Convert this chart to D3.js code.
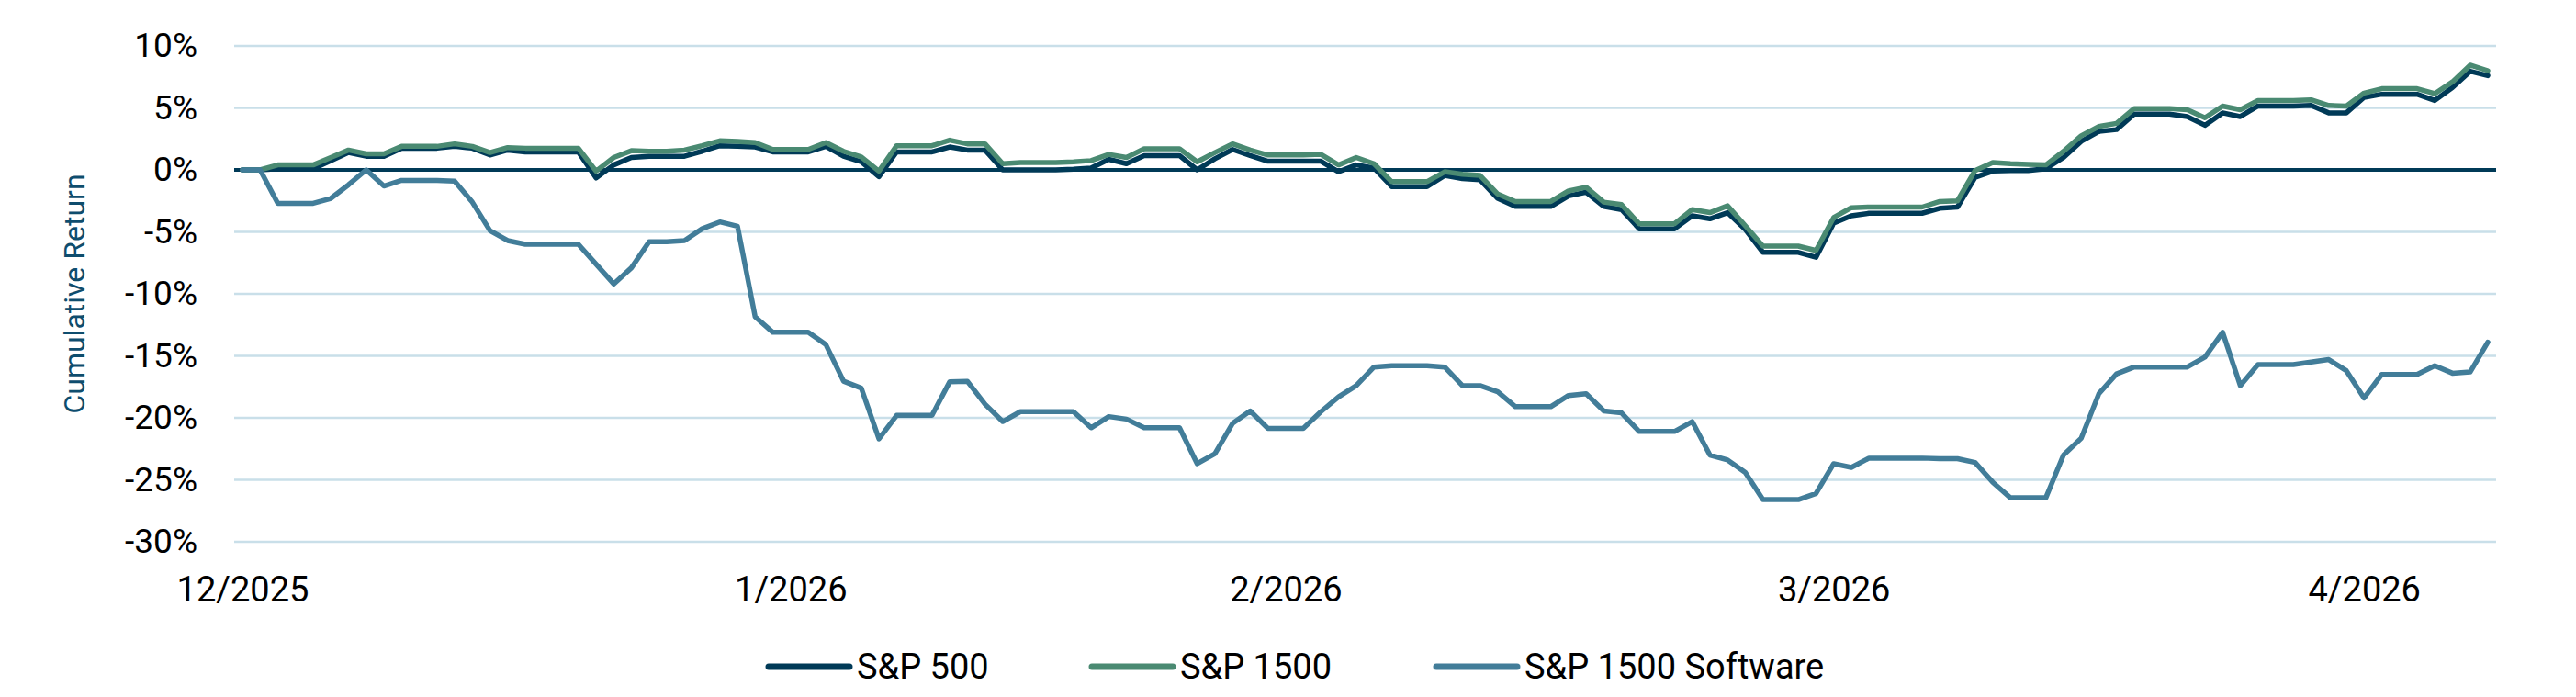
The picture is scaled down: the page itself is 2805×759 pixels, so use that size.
<!DOCTYPE html>
<html>
<head>
<meta charset="utf-8">
<script src="https://cdn.jsdelivr.net/npm/d3@7"></script>
<style>
  body { margin: 0; background: #fff; }
  text { font-family: "Liberation Sans Narrow", "Roboto", sans-serif; }
</style>
</head>
<body>
<svg id="chart" width="2805" height="759"></svg>
<script>
// daily cumulative returns (%), one value per calendar day
var sp500 = [0,0,0.1,0.1,0.1,0.75,1.4,1.1,1.1,1.75,1.75,1.75,1.9,1.75,1.2,1.6,1.45,1.45,1.45,1.45,-0.65,0.4,1.0,1.1,1.1,1.1,
  1.5,1.95,1.9,1.85,1.45,1.45,1.45,1.9,1.1,0.65,-0.55,1.45,1.45,1.45,1.85,1.6,1.6,0,0,0,0,0.05,0.15,0.85,0.5,
  1.15,1.15,1.15,0,0.9,1.65,1.15,0.7,0.7,0.7,0.7,-0.15,0.4,0.15,-1.35,-1.35,-1.35,-0.45,-0.7,-0.8,-2.3,-2.95,-2.95,-2.95,-2.1,-1.8,
  -2.95,-3.2,-4.75,-4.75,-4.75,-3.7,-3.95,-3.45,-4.8,-6.65,-6.65,-6.65,-7.05,-4.3,-3.7,-3.5,-3.5,-3.5,-3.5,-3.1,-3.0,-0.6,-0.1,-0.05,-0.05,
  0.1,1.0,2.3,3.1,3.25,4.5,4.5,4.5,4.3,3.6,4.6,4.3,5.15,5.15,5.15,5.2,4.6,4.6,5.85,6.1,6.1,6.1,5.6,6.65,7.95,7.6];
var sp1500 = [0,0,0.4,0.4,0.4,1.0,1.6,1.3,1.3,1.9,1.9,1.9,2.1,1.9,1.4,1.8,1.75,1.75,1.75,1.75,-0.1,1.0,1.55,1.5,1.5,1.6,
  1.95,2.35,2.3,2.2,1.65,1.65,1.65,2.2,1.5,1.05,-0.1,1.95,1.95,1.95,2.4,2.1,2.1,0.5,0.6,0.6,0.6,0.65,0.75,1.25,1.0,
  1.7,1.7,1.7,0.65,1.4,2.1,1.6,1.2,1.2,1.2,1.25,0.4,1.0,0.5,-0.95,-0.95,-0.95,-0.15,-0.35,-0.45,-1.95,-2.55,-2.55,-2.55,-1.7,-1.4,
  -2.6,-2.8,-4.35,-4.35,-4.35,-3.2,-3.45,-2.9,-4.5,-6.15,-6.15,-6.15,-6.5,-3.85,-3.05,-3.0,-3.0,-3.0,-3.0,-2.55,-2.5,-0.05,0.6,0.5,0.45,
  0.4,1.5,2.75,3.5,3.75,4.95,4.95,4.95,4.85,4.2,5.15,4.85,5.6,5.6,5.6,5.65,5.2,5.15,6.2,6.55,6.55,6.55,6.15,7.1,8.45,8.0];
var software = [0,0,-2.7,-2.7,-2.7,-2.3,-1.2,0,-1.3,-0.85,-0.85,-0.85,-0.9,-2.6,-4.9,-5.7,-6.0,-6.0,-6.0,-6.0,-7.6,-9.2,-7.9,-5.8,-5.8,-5.7,
  -4.75,-4.2,-4.55,-11.85,-13.1,-13.1,-13.1,-14.1,-17.05,-17.6,-21.7,-19.8,-19.8,-19.8,-17.1,-17.05,-18.9,-20.3,-19.5,-19.5,-19.5,-19.5,-20.8,-19.9,-20.1,
  -20.8,-20.8,-20.8,-23.7,-22.9,-20.45,-19.45,-20.85,-20.85,-20.85,-19.5,-18.3,-17.4,-15.9,-15.8,-15.8,-15.8,-15.9,-17.4,-17.4,-17.9,-19.1,-19.1,-19.1,-18.2,-18.05,
  -19.45,-19.6,-21.1,-21.1,-21.1,-20.3,-23.0,-23.4,-24.4,-26.6,-26.6,-26.6,-26.1,-23.7,-24.0,-23.25,-23.25,-23.25,-23.25,-23.3,-23.3,-23.6,-25.2,-26.45,-26.45,
  -26.45,-23.0,-21.65,-18.05,-16.45,-15.9,-15.9,-15.9,-15.9,-15.1,-13.1,-17.4,-15.7,-15.7,-15.7,-15.5,-15.3,-16.2,-18.4,-16.5,-16.5,-16.5,-15.8,-16.4,-16.3,-13.9];

var seriesNames = ["S&P 500", "S&P 1500", "S&P 1500 Software"];
var seriesColors = ["#003a57", "#4a8a72", "#427d99"];
var yTicks = [10, 5, 0, -5, -10, -15, -20, -25, -30];
var xTickIdx = [0, 31, 59, 90, 120];
var xTickLabels = ["12/2025", "1/2026", "2/2026", "3/2026", "4/2026"];

var svg = d3.select("#chart");
var x = d3.scaleLinear().domain([0, sp500.length - 1]).range([264, 2709]);
var y = d3.scaleLinear().domain([-30, 10]).range([590, 50]);

// gridlines
svg.append("g").selectAll("line").data(yTicks.filter(function(d) { return d !== 0; }))
  .enter().append("line")
    .attr("x1", 255).attr("x2", 2718)
    .attr("y1", y).attr("y2", y)
    .attr("stroke", "#c9dfe9").attr("stroke-width", 2.5);

// y axis labels
var yAxis = d3.axisLeft(y).tickValues(yTicks).tickSize(0).tickPadding(0)
  .tickFormat(function(d) { return d + "%"; });
svg.append("g").attr("transform", "translate(215,0)").call(yAxis)
  .call(function(g) { g.select(".domain").remove(); })
  .selectAll("text").attr("font-size", 37).attr("fill", "#000")
    .style("font-family", '"Liberation Sans Narrow", "Roboto", sans-serif');

// zero line
svg.append("line").attr("x1", 255).attr("x2", 2718).attr("y1", y(0)).attr("y2", y(0))
  .attr("stroke", "#003a57").attr("stroke-width", 4);

// x axis labels
var xAxis = d3.axisBottom(x).tickValues(xTickIdx).tickSize(0).tickPadding(0)
  .tickFormat(function(d, i) { return xTickLabels[i]; });
svg.append("g").attr("transform", "translate(0,628)").call(xAxis)
  .call(function(g) { g.select(".domain").remove(); })
  .selectAll("text").attr("font-size", 38).attr("fill", "#000")
    .style("font-family", '"Liberation Sans Narrow", "Roboto", sans-serif');

// y title
svg.append("text")
  .attr("transform", "translate(92,320) rotate(-90)")
  .attr("text-anchor", "middle")
  .attr("font-size", 32).attr("fill", "#0e4d6e")
  .style("font-family", "Roboto, sans-serif")
  .text("Cumulative Return");

// lines
var line = d3.line().x(function(d, i) { return x(i); }).y(function(d) { return y(d); });
[sp500, sp1500, software].forEach(function(s, k) {
  svg.append("path").datum(s)
    .attr("d", line).attr("fill", "none")
    .attr("stroke", seriesColors[k]).attr("stroke-width", 5.5)
    .attr("stroke-linejoin", "round").attr("stroke-linecap", "round");
});

// legend
var legendX = [837, 1189, 1564];
var legend = svg.append("g").selectAll("g").data(seriesNames).enter().append("g")
  .attr("transform", function(d, i) { return "translate(" + legendX[i] + ",726)"; });
legend.append("line").attr("x1", 0).attr("x2", 88)
  .attr("stroke", function(d, i) { return seriesColors[i]; })
  .attr("stroke-width", 7).attr("stroke-linecap", "round");
legend.append("text").attr("x", 96).attr("dy", "0.35em")
  .attr("font-size", 38).attr("fill", "#000").text(String);
</script>
</body>
</html>
